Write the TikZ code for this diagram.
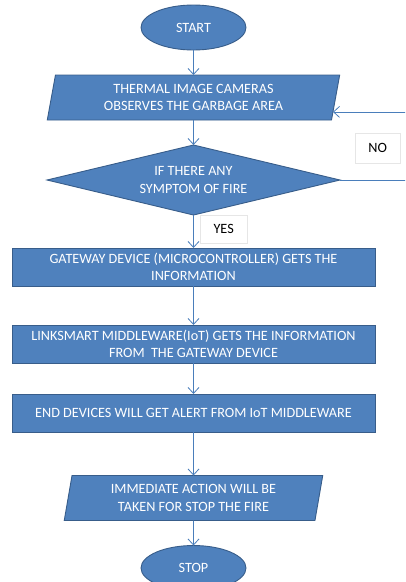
\documentclass[tikz,border=0pt]{standalone}
\usepackage{fontspec}
\setmainfont{Carlito}
\usepackage{tikz}
\usetikzlibrary{positioning,shapes.geometric,arrows.meta,calc}

\definecolor{boxblue}{HTML}{4F81BD}
\definecolor{boxline}{HTML}{385D8A}
\definecolor{arrowblue}{HTML}{4A7EBB}
\definecolor{labelline}{HTML}{E6E6E6}

\tikzset{
  flowbox/.style={fill=boxblue, draw=boxline, line width=0.9pt, text=white, outer sep=0pt,
    font=\fontsize{14.2}{17.5}\selectfont, align=center, inner sep=2pt},
  terminal/.style={flowbox, ellipse, minimum width=105pt, minimum height=45pt},
  iobox/.style={flowbox, trapezium, trapezium left angle=80, trapezium right angle=100,
    trapezium stretches=true, minimum height=45pt},
  decision/.style={flowbox, diamond, aspect=4.2, minimum width=293pt, minimum height=70pt, inner sep=0pt},
  process/.style={flowbox, rectangle, minimum width=363pt, minimum height=38pt},
  answer/.style={fill=white, draw=labelline, line width=0.4pt, font=\fontsize{14.2}{17.5}\selectfont},
  flow/.style={draw=arrowblue, line width=0.8pt, -{Straight Barb[length=6pt,width=11pt]}}
}

\begin{document}
\begin{tikzpicture}[auto,node distance=25pt]
    \useasboundingbox (0,0) rectangle (405pt,-582pt);
    \clip (0,0) rectangle (405pt,-582pt);
    \node[terminal] (start) at (193.5pt,-27.5pt) {START};
    \node[iobox, minimum width=293pt, below=25pt of start] (observe) {THERMAL IMAGE CAMERAS\\OBSERVES THE GARBAGE AREA};
    \node[decision, below=25pt of observe]    (check)      {IF THERE ANY\\SYMPTOM OF FIRE};
    \node[process, below=33pt of check]       (gateway)    {GATEWAY DEVICE (MICROCONTROLLER) GETS THE\\INFORMATION};
    \node[process, below=39pt of gateway]     (middleware) {LINKSMART MIDDLEWARE(IoT) GETS THE INFORMATION\\FROM\ \ THE GATEWAY DEVICE};
    \node[process, below=31pt of middleware]  (alert)      {END DEVICES WILL GET ALERT FROM IoT MIDDLEWARE};
    \node[iobox, minimum width=259pt, below=43.5pt of alert] (action) {IMMEDIATE ACTION WILL BE\\TAKEN FOR STOP THE FIRE};
    \node[terminal, below=25pt of action]     (stop)       {STOP};
    %
    \node[answer, minimum width=45pt, minimum height=30pt, above right=17pt and 15pt of check.east] (no)  {NO};
    \node[answer, minimum width=47pt, minimum height=28pt, below right=0pt and 6.5pt of check.south] (yes) {YES};
    %
    \coordinate (loopin) at ($(observe.bottom right corner)!0.18!(observe.top right corner)$);
    \coordinate (loopx)  at (420pt,0pt);
    %
    \path[flow]
        (start)      edge (observe)
        (observe)    edge (check)
        (check)      edge (gateway)
        (gateway)    edge (middleware)
        (middleware) edge (alert)
        (alert)      edge (action)
        (action)     edge (stop)
    ; %-path-%
    \draw[flow] (check.east) -- (check.east -| loopx) -- (loopin -| loopx) -- (loopin);
\end{tikzpicture}
\end{document}
